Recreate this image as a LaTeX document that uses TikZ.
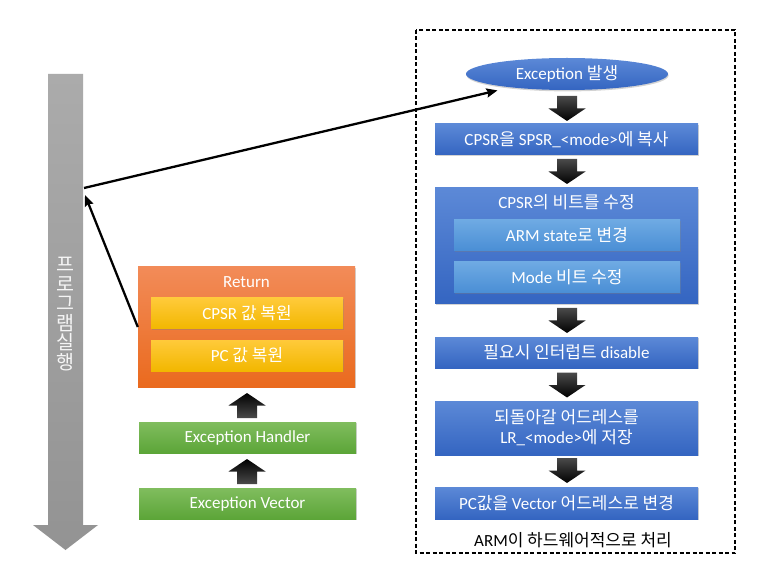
\documentclass[tikz,border=0pt]{standalone}
\usepackage{fontspec}
\setmainfont{Carlito}
\newfontfamily\kr{Noto Sans CJK KR}
\usetikzlibrary{shapes.geometric,shadows,arrows.meta}

\definecolor{blueTop}{HTML}{5C89D7}
\definecolor{blueBot}{HTML}{3465C1}
\definecolor{lightTop}{HTML}{6EAAE3}
\definecolor{lightBot}{HTML}{4A8ED5}
\definecolor{orangeTop}{HTML}{F28B58}
\definecolor{orangeBot}{HTML}{EA6A1E}
\definecolor{goldTop}{HTML}{FFCA3A}
\definecolor{goldBot}{HTML}{F2B700}
\definecolor{greenTop}{HTML}{80BD5E}
\definecolor{greenBot}{HTML}{5CA538}
\definecolor{grayTop}{HTML}{ABABAB}
\definecolor{grayBot}{HTML}{939393}
\definecolor{tailgray}{HTML}{4A4A4A}

\begin{document}
\begin{tikzpicture}
    [
    x=1pt,y=-1pt,
    every node/.style={font=\fontsize{17}{20}\selectfont},
    box/.style={rectangle,inner sep=0pt,text=white,
      drop shadow={shadow xshift=0.6pt,shadow yshift=-1.4pt,opacity=0.35}},
    bluebox/.style={box,top color=blueTop,bottom color=blueBot,minimum width=263pt},
    lightbox/.style={box,top color=lightTop,bottom color=lightBot,minimum width=226pt,minimum height=31pt},
    orangebox/.style={box,top color=orangeTop,bottom color=orangeBot},
    goldbox/.style={box,top color=goldTop,bottom color=goldBot,minimum width=192pt,minimum height=31pt},
    greenbox/.style={box,top color=greenTop,bottom color=greenBot,minimum width=217pt,minimum height=31pt},
    blueellipse/.style={ellipse,inner sep=0pt,text=white,top color=blueTop,bottom color=blueBot,
      drop shadow={shadow xshift=0.6pt,shadow yshift=-1.4pt,opacity=0.35}},
    conn/.style={line width=2.3pt,-{Stealth[length=11pt,width=9pt,inset=1.5pt]}},
    blkdown/.pic={\shade[top color=tailgray,bottom color=black]
      (-10,-12.5) -- (10,-12.5) -- (10,0) -- (18.5,0) -- (0,12.5) -- (-18.5,0) -- (-10,0) -- cycle;},
    blkup/.pic={\shade[top color=black,bottom color=tailgray]
      (-10,12.5) -- (10,12.5) -- (10,0) -- (18.5,0) -- (0,-12.5) -- (-18.5,0) -- (-10,0) -- cycle;}
    ]
    \useasboundingbox (0,0) rectangle (763,585);
    % program flow arrow
    \shade[top color=grayTop,bottom color=grayBot]
      (48,74) -- (83,74) -- (83,525) -- (98,525) -- (65.5,550) -- (33,525) -- (48,525) -- cycle;
    \node[text=white!92!gray,align=center,font=\kr\fontsize{19.5}{19.5}\selectfont] (prog) at (65.5,314)
      {프\\로\\그\\램\\실\\행};
    \coordinate (hitA) at (85,195);
    \coordinate (hitB) at (84,188);
    % return path
    \node[orangebox,minimum width=217pt,minimum height=120pt] (ret) at (246.5,327) {};
    \node[text=white] (rettitle) at (246.5,282) {Return};
    \node[goldbox] (cpsrback) at (247,313.5) {CPSR {\kr 값 복원}};
    \node[goldbox] (pcback) at (247,355.5) {PC {\kr 값 복원}};
    \pic at (247,405.5) {blkup};
    \node[greenbox] (handler) at (247.5,437.5) {Exception Handler};
    \pic at (247,471.5) {blkup};
    \node[greenbox] (vector) at (247.5,503.5) {Exception Vector};
    % hardware part
    \draw[line width=1.5pt,dash pattern=on 4pt off 2.5pt] (416,30) rectangle (735,553);
    \node[blueellipse,minimum width=202pt,minimum height=32pt] (evt) at (567,74) {Exception {\kr 발생}};
    \pic at (567,108.5) {blkdown};
    \node[bluebox,minimum height=31pt] (copy) at (566.5,139.5) {CPSR{\kr 을} SPSR\_<mode>{\kr 에 복사}};
    \pic at (567,171.5) {blkdown};
    \node[bluebox,minimum height=116pt] (modify) at (566.5,246) {};
    \node[text=white] (modtitle) at (566.5,202) {CPSR{\kr 의 비트를 수정}};
    \node[lightbox] (armst) at (567,235.5) {ARM state{\kr 로 변경}};
    \node[lightbox] (modebit) at (567,277.5) {Mode {\kr 비트 수정}};
    \pic at (567,320.5) {blkdown};
    \node[bluebox,minimum height=31pt] (irq) at (566.5,352.5) {{\kr 필요시 인터럽트} disable};
    \pic at (567,385) {blkdown};
    \node[bluebox,minimum height=54pt,align=center] (lr) at (566.5,428)
      {{\kr 되돌아갈 어드레스를}\\LR\_<mode>{\kr 에 저장}};
    \pic at (567,470.5) {blkdown};
    \node[bluebox,minimum height=32pt] (pcvec) at (566.5,503) {PC{\kr 값을} Vector {\kr 어드레스로 변경}};
    \node (hwnote) at (573,540) {ARM{\kr 이 하드웨어적으로 처리}};
    % connectors
    \draw[conn] (ret.west) -- (hitA);
    \draw[conn,shorten >=13pt] (hitB) -- (evt);
  \end{tikzpicture}
\end{document}
